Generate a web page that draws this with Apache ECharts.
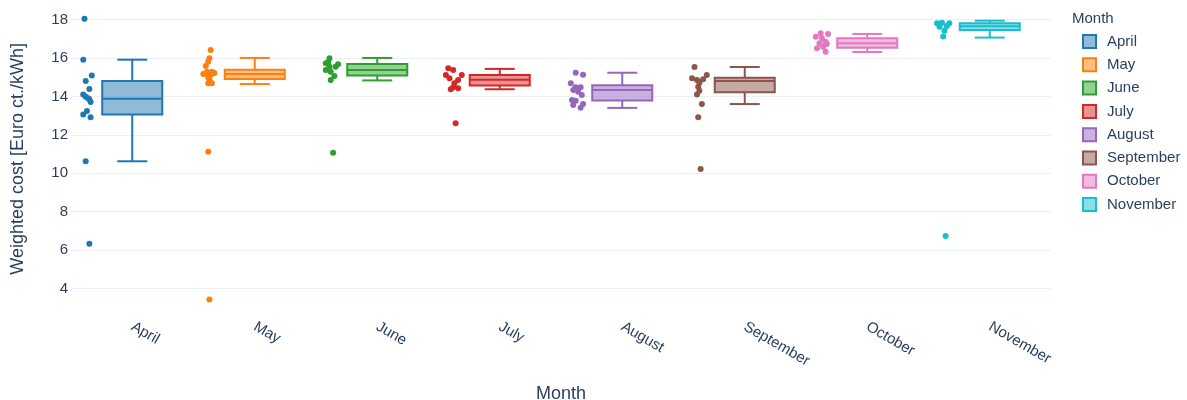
<!DOCTYPE html>
<html>
<head>
<meta charset="utf-8">
<script src="https://cdn.jsdelivr.net/npm/echarts@6/dist/echarts.min.js"></script>
<style>
  html, body { margin: 0; padding: 0; background: #fff; }
  #chart { width: 1187px; height: 400px; }
</style>
</head>
<body>
<div id="chart"></div>
<script>
// ---- categories & colours ----
const months = ['April', 'May', 'June', 'July', 'August', 'September', 'October', 'November'];
const colors = ['#1f77b4', '#ff7f0e', '#2ca02c', '#d62728', '#9467bd', '#8c564b', '#e377c2', '#17becf'];

// ---- box statistics ----
const boxMin    = [10.62, 14.64, 14.83, 14.37, 13.40, 13.60, 16.31, 17.06];
const boxQ1     = [13.06, 14.90, 15.09, 14.56, 13.78, 14.21, 16.53, 17.45];
const boxMedian = [13.88, 15.17, 15.37, 14.87, 14.33, 14.80, 16.76, 17.65];
const boxQ3     = [14.80, 15.39, 15.68, 15.11, 14.58, 14.97, 17.02, 17.80];
const boxMax    = [15.91, 16.00, 16.00, 15.43, 15.23, 15.53, 17.25, 17.94];

// ---- individual points (value, horizontal jitter in category units) ----
const aprilCost   = [18.04, 15.91, 15.09, 14.80, 14.38, 14.10, 13.98, 13.90, 13.85, 13.71, 13.24, 13.06, 12.91, 10.62, 6.33];
const aprilJitter = [-0.39, -0.40, -0.33, -0.38, -0.35, -0.40, -0.38, -0.36, -0.35, -0.34, -0.37, -0.40, -0.34, -0.38, -0.35];
const mayCost     = [16.41, 15.98, 15.80, 15.58, 15.16, 15.28, 15.28, 15.22, 15.11, 14.99, 14.85, 14.68, 14.68, 11.12, 3.43];
const mayJitter   = [-0.36, -0.37, -0.38, -0.40, -0.42, -0.39, -0.35, -0.33, -0.36, -0.38, -0.37, -0.38, -0.35, -0.38, -0.37];
const juneCost    = [15.98, 15.79, 15.67, 15.72, 15.54, 15.54, 15.37, 15.28, 15.06, 14.85, 11.07];
const juneJitter  = [-0.39, -0.40, -0.32, -0.42, -0.34, -0.39, -0.42, -0.38, -0.35, -0.38, -0.36];
const julyCost    = [15.46, 15.37, 15.11, 15.11, 14.94, 14.85, 14.68, 14.47, 14.42, 14.37, 12.60];
const julyJitter  = [-0.42, -0.38, -0.44, -0.31, -0.41, -0.34, -0.37, -0.38, -0.34, -0.40, -0.36];
const augustCost  = [15.23, 15.13, 14.68, 14.47, 14.47, 14.33, 14.24, 14.07, 13.81, 13.77, 13.55, 13.60, 13.41];
const augustJitter= [-0.38, -0.32, -0.42, -0.38, -0.34, -0.40, -0.36, -0.33, -0.41, -0.38, -0.40, -0.32, -0.34];
const septemberCost   = [15.53, 15.11, 14.94, 14.85, 14.89, 14.71, 14.50, 14.29, 14.10, 13.60, 12.91, 10.22];
const septemberJitter = [-0.41, -0.31, -0.43, -0.39, -0.34, -0.37, -0.38, -0.37, -0.39, -0.35, -0.38, -0.36];
const octoberCost   = [17.28, 17.25, 17.10, 17.02, 16.84, 16.76, 16.72, 16.58, 16.50, 16.32];
const octoberJitter = [-0.38, -0.32, -0.42, -0.37, -0.34, -0.39, -0.33, -0.36, -0.41, -0.34];
const novemberCost   = [17.80, 17.83, 17.80, 17.63, 17.66, 17.42, 17.11, 6.73];
const novemberJitter = [-0.43, -0.39, -0.33, -0.41, -0.35, -0.37, -0.38, -0.36];

const pointCosts   = [aprilCost, mayCost, juneCost, julyCost, augustCost, septemberCost, octoberCost, novemberCost];
const pointJitters = [aprilJitter, mayJitter, juneJitter, julyJitter, augustJitter, septemberJitter, octoberJitter, novemberJitter];

// ---- styling helpers ----
const FONT = '"Liberation Sans", Arial, sans-serif';
const TEXT = '#2a3f5f';
function fade(hex, a) {
  const r = parseInt(hex.slice(1, 3), 16), g = parseInt(hex.slice(3, 5), 16), b = parseInt(hex.slice(5, 7), 16);
  return 'rgba(' + r + ',' + g + ',' + b + ',' + a + ')';
}

function makeBoxRenderer(color) {
  return function (params, api) {
    const idx = api.value(0);
    const lo = api.coord([idx, api.value(1)]);
    const q1 = api.coord([idx, api.value(2)]);
    const md = api.coord([idx, api.value(3)]);
    const q3 = api.coord([idx, api.value(4)]);
    const hi = api.coord([idx, api.value(5)]);
    const w = api.size([1, 0])[0] * 0.49;
    const cx = md[0];
    const ls = { stroke: color, lineWidth: 2, fill: null };
    return {
      type: 'group',
      children: [
        { type: 'line', shape: { x1: cx, y1: hi[1], x2: cx, y2: q3[1] }, style: ls },
        { type: 'line', shape: { x1: cx, y1: q1[1], x2: cx, y2: lo[1] }, style: ls },
        { type: 'line', shape: { x1: cx - w / 4, y1: hi[1], x2: cx + w / 4, y2: hi[1] }, style: ls },
        { type: 'line', shape: { x1: cx - w / 4, y1: lo[1], x2: cx + w / 4, y2: lo[1] }, style: ls },
        { type: 'rect', shape: { x: cx - w / 2, y: q3[1], width: w, height: q1[1] - q3[1] },
          style: { fill: fade(color, 0.5), stroke: color, lineWidth: 2 } },
        { type: 'line', shape: { x1: cx - w / 2, y1: md[1], x2: cx + w / 2, y2: md[1] }, style: ls }
      ]
    };
  };
}

const series = [];
months.forEach(function (m, i) {
  series.push({
    name: m,
    type: 'custom',
    xAxisIndex: 0,
    yAxisIndex: 0,
    renderItem: makeBoxRenderer(colors[i]),
    itemStyle: { color: fade(colors[i], 0.5), borderColor: colors[i], borderWidth: 2 },
    encode: { x: 0, y: [1, 2, 3, 4, 5] },
    data: [[i, boxMin[i], boxQ1[i], boxMedian[i], boxQ3[i], boxMax[i]]],
    z: 2
  });
});
months.forEach(function (m, i) {
  series.push({
    name: m,
    type: 'scatter',
    xAxisIndex: 1,
    yAxisIndex: 0,
    symbol: 'circle',
    symbolSize: 6,
    itemStyle: { color: colors[i], opacity: 1 },
    data: pointCosts[i].map(function (v, k) { return [i + pointJitters[i][k], v]; }),
    z: 3
  });
});

const chart = echarts.init(document.getElementById('chart'), null, { renderer: 'canvas' });
chart.setOption({
  animation: false,
  backgroundColor: '#fff',
  textStyle: { fontFamily: FONT },
  grid: { left: 71, right: 136, top: 8, bottom: 90.4, containLabel: false, outerBoundsMode: 'none' },
  legend: {
    orient: 'vertical',
    left: 1077,
    top: 29,
    itemWidth: 13,
    itemHeight: 13,
    itemGap: 8.3,
    icon: 'rect',
    textStyle: { color: TEXT, fontSize: 15, fontFamily: FONT, padding: [0, 0, 0, 6] },
    data: months.map(function (m, i) {
      return { name: m, icon: 'rect', itemStyle: { color: fade(colors[i], 0.5), borderColor: colors[i], borderWidth: 2 } };
    })
  },
  graphic: [{
    type: 'text', left: 1072, top: 11,
    style: { text: 'Month', fill: TEXT, font: '15px ' + FONT }
  }],
  xAxis: [{
    type: 'category',
    data: months,
    boundaryGap: true,
    axisLine: { show: false },
    axisTick: { show: false },
    splitLine: { show: false },
    axisLabel: { rotate: -30, color: TEXT, fontSize: 15, fontFamily: FONT, margin: 16, interval: 0 },
    name: 'Month',
    nameLocation: 'middle',
    nameGap: 75,
    nameTextStyle: { color: TEXT, fontSize: 18, fontFamily: FONT }
  }, {
    type: 'value',
    min: -0.5,
    max: 7.5,
    show: false
  }],
  yAxis: [{
    type: 'value',
    min: 2.9,
    max: 18.6,
    splitNumber: 8,
    axisLine: { show: false },
    axisTick: { show: false },
    splitLine: { show: true, showMinLine: false, showMaxLine: false, lineStyle: { color: '#EBF0F8', width: 1 } },
    axisLabel: { color: TEXT, fontSize: 15, fontFamily: FONT, margin: 3, showMinLabel: false, showMaxLabel: false },
    name: 'Weighted cost [Euro ct./kWh]',
    nameLocation: 'middle',
    nameGap: 44,
    nameTextStyle: { color: TEXT, fontSize: 18, fontFamily: FONT }
  }],
  series: series
});
</script>
</body>
</html>
